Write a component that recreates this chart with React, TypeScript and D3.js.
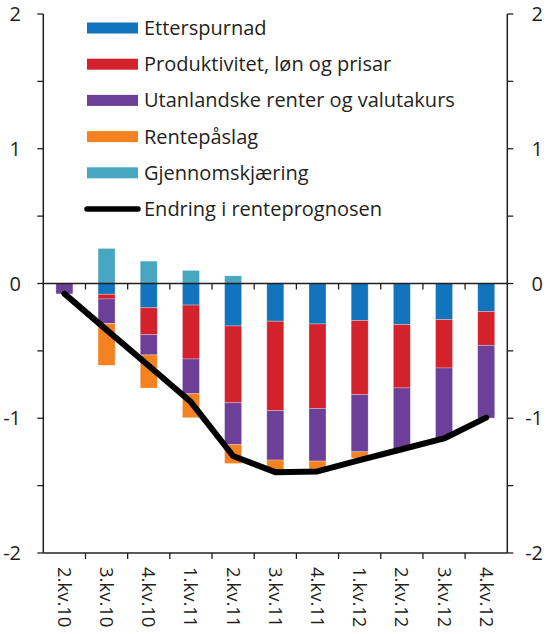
import { useEffect, useRef } from "react";
import * as d3 from "d3";

const categories = [
  "2.kv.10", "3.kv.10", "4.kv.10", "1.kv.11", "2.kv.11", "3.kv.11",
  "4.kv.11", "1.kv.12", "2.kv.12", "3.kv.12", "4.kv.12",
];

const etterspurnad = [0, -0.08, -0.18, -0.16, -0.315, -0.28, -0.3, -0.275, -0.305, -0.268, -0.208];
const produktivitet = [0, -0.035, -0.2, -0.4, -0.57, -0.664, -0.627, -0.55, -0.47, -0.359, -0.251];
const utanlandske = [-0.077, -0.182, -0.15, -0.258, -0.311, -0.366, -0.391, -0.424, -0.454, -0.52, -0.54];
const rentepaaslag = [0, -0.31, -0.246, -0.178, -0.14, -0.075, -0.065, -0.047, 0, 0, 0];
const gjennomskjaering = [0, 0.26, 0.166, 0.097, 0.057, 0, 0, 0, 0, 0, 0];

const renteprognose = [-0.075, -0.344, -0.61, -0.88, -1.28, -1.4, -1.395, -1.31, -1.23, -1.15, -0.995];

const yTicks = [-2, -1.5, -1, -0.5, 0, 0.5, 1, 1.5, 2];
const yLabels = [-2, -1, 0, 1, 2];

const series = [
  { key: "etterspurnad", name: "Etterspurnad", color: "#1174bd", values: etterspurnad },
  { key: "produktivitet", name: "Produktivitet, løn og prisar", color: "#d3222c", values: produktivitet },
  { key: "utanlandske", name: "Utanlandske renter og valutakurs", color: "#6c3f98", values: utanlandske },
  { key: "rentepaaslag", name: "Rentepåslag", color: "#f58220", values: rentepaaslag },
  { key: "gjennomskjaering", name: "Gjennomskjæring", color: "#47a6c0", values: gjennomskjaering },
];

const font = "'Open Sans', sans-serif";

const App = () => {
  const svgRef = useRef<SVGSVGElement | null>(null);

  useEffect(() => {
    if (!svgRef.current) return;
    const svg = d3.select(svgRef.current);
    svg.selectAll("*").remove();

    const left = 43.3;
    const right = 507.3;
    const top = 14;
    const bottom = 553;

    const x = d3.scaleBand().domain(categories).range([left, right]).paddingInner(0).paddingOuter(0);
    const y = d3.scaleLinear().domain([-2, 2]).range([bottom, top]);
    const barW = 17;

    const rows = categories.map((c, i) => {
      const r: any = { cat: c };
      series.forEach((s) => (r[s.key] = s.values[i]));
      return r;
    });
    const stacked = d3
      .stack()
      .keys(series.map((s) => s.key))
      .offset(d3.stackOffsetDiverging)(rows);

    // bars
    stacked.forEach((layer, li) => {
      svg
        .append("g")
        .selectAll("rect")
        .data(layer.filter((d) => d[1] - d[0] !== 0))
        .enter()
        .append("rect")
        .attr("x", (d: any) => (x(d.data.cat) || 0) + x.bandwidth() / 2 - barW / 2)
        .attr("width", barW)
        .attr("y", (d) => y(Math.max(d[0], d[1])))
        .attr("height", (d) => Math.abs(y(d[0]) - y(d[1])))
        .attr("fill", series[li].color)
        .attr("stroke", "#ffffff")
        .attr("stroke-opacity", 0.35)
        .attr("stroke-width", 0.8);
    });

    const axisColor = "#231f20";

    // zero line with ticks
    svg.append("line")
      .attr("x1", left).attr("x2", right)
      .attr("y1", y(0)).attr("y2", y(0))
      .attr("stroke", axisColor).attr("stroke-width", 1.5);
    // bottom line
    svg.append("line")
      .attr("x1", left).attr("x2", right)
      .attr("y1", y(-2)).attr("y2", y(-2))
      .attr("stroke", axisColor).attr("stroke-width", 1.5);

    const bounds = categories.slice(1).map((c) => x(c) || 0);
    [0, -2].forEach((v) => {
      svg.append("g")
        .selectAll("line")
        .data(bounds)
        .enter()
        .append("line")
        .attr("x1", (d) => d).attr("x2", (d) => d)
        .attr("y1", y(v)).attr("y2", y(v) + 6)
        .attr("stroke", axisColor).attr("stroke-width", 1.3);
    });

    // side axes
    [left, right].forEach((ax, side) => {
      svg.append("line")
        .attr("x1", ax).attr("x2", ax)
        .attr("y1", y(2)).attr("y2", y(-2))
        .attr("stroke", axisColor).attr("stroke-width", 1.5);
      svg.append("g")
        .selectAll("line")
        .data(yTicks)
        .enter()
        .append("line")
        .attr("x1", ax).attr("x2", side === 0 ? ax - 6 : ax + 6)
        .attr("y1", (d) => y(d)).attr("y2", (d) => y(d))
        .attr("stroke", axisColor).attr("stroke-width", 1.3);
      svg.append("g")
        .selectAll("text")
        .data(yLabels)
        .enter()
        .append("text")
        .attr("x", side === 0 ? 21 : 543)
        .attr("y", (d) => y(d))
        .attr("dy", "0.35em")
        .attr("text-anchor", "end")
        .attr("font-family", font)
        .attr("font-size", 20)
        .attr("fill", "#231f20")
        .text((d) => String(d));
    });

    // category labels
    svg.append("g")
      .selectAll("text")
      .data(categories)
      .enter()
      .append("text")
      .attr("transform", (d) => `translate(${(x(d) || 0) + x.bandwidth() / 2},${y(-2) + 14}) rotate(90)`)
      .attr("dy", "0.35em")
      .attr("text-anchor", "start")
      .attr("font-family", font)
      .attr("font-size", 18.5)
      .attr("fill", "#231f20")
      .text((d) => d);

    // line
    const line = d3
      .line<number>()
      .x((_, i) => (x(categories[i]) || 0) + x.bandwidth() / 2)
      .y((d) => y(d));
    svg.append("path")
      .datum(renteprognose)
      .attr("d", line)
      .attr("fill", "none")
      .attr("stroke", "#000000")
      .attr("stroke-width", 6)
      .attr("stroke-linejoin", "round")
      .attr("stroke-linecap", "round");

    // legend
    const legend = svg.append("g");
    const items = [...series.map((s) => ({ name: s.name, color: s.color, isLine: false })),
      { name: "Endring i renteprognosen", color: "#000000", isLine: true }];
    items.forEach((it, i) => {
      const cy = 28 + i * 36.2;
      if (it.isLine) {
        legend.append("line")
          .attr("x1", 87).attr("x2", 138)
          .attr("y1", cy).attr("y2", cy)
          .attr("stroke", "#000").attr("stroke-width", 5.5)
          .attr("stroke-linecap", "round");
      } else {
        legend.append("rect")
          .attr("x", 87).attr("y", cy - 5.5)
          .attr("width", 51).attr("height", 11)
          .attr("fill", it.color);
      }
      legend.append("text")
        .attr("x", 144).attr("y", cy)
        .attr("dy", "0.35em")
        .attr("font-family", font)
        .attr("font-size", 20)
        .attr("fill", "#231f20")
        .text(it.name);
    });
  }, []);

  return (
    <svg
      ref={svgRef}
      width={550}
      height={634}
      style={{ position: "absolute", left: 0, top: 0, background: "#fff" }}
    ></svg>
  );
};

export default App;
